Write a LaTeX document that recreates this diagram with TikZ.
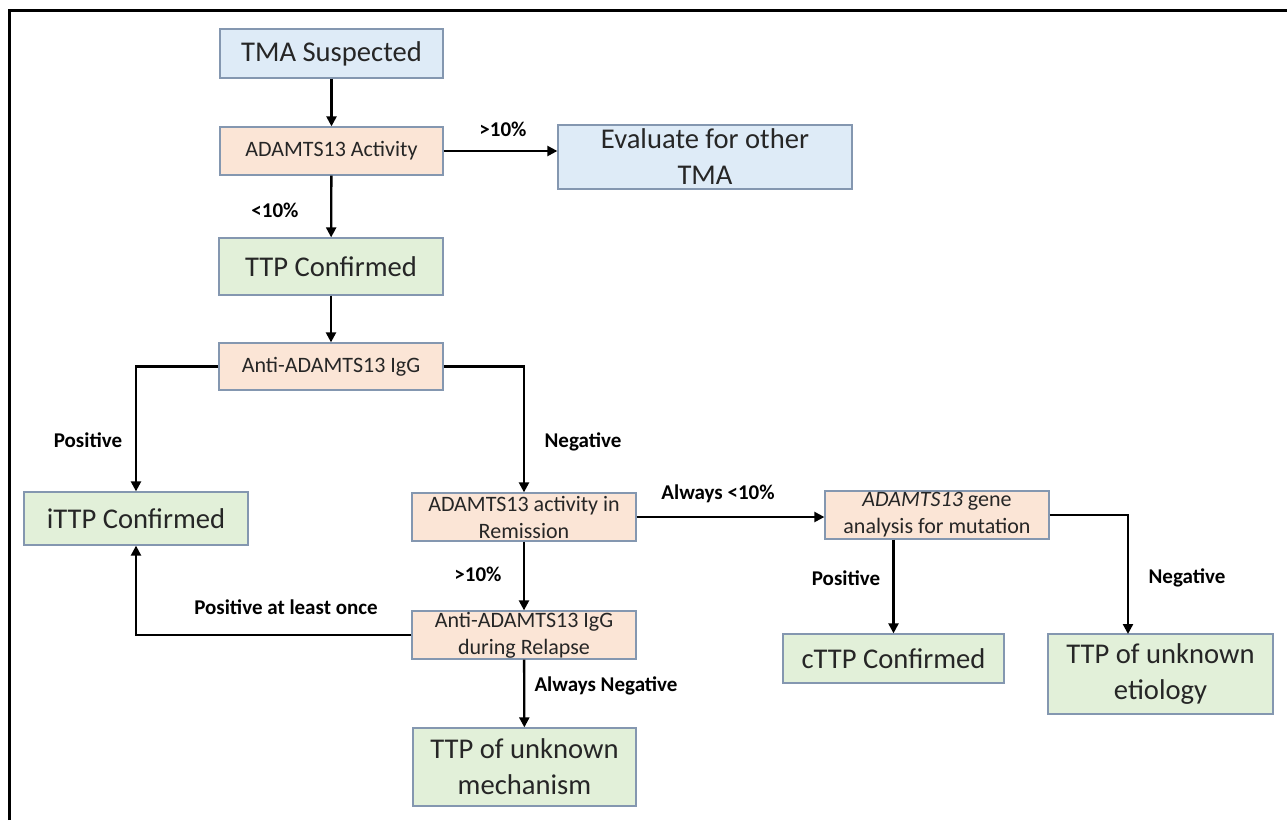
\documentclass[tikz,border=0pt]{standalone}
\usepackage{fontspec}
\setmainfont{Carlito}
\usetikzlibrary{arrows.meta,calc}
\definecolor{bluefill}{HTML}{DEEBF7}
\definecolor{peachfill}{HTML}{FBE5D6}
\definecolor{greenfill}{HTML}{E2F0D9}
\definecolor{boxline}{HTML}{8497B0}
\definecolor{txt}{HTML}{262626}
\tikzset{
  box/.style={draw=boxline, line width=1.3pt, inner sep=0pt, align=center, text=txt},
  bigbox/.style={box, font=\fontsize{28.6}{36}\selectfont},
  smallbox/.style={box, fill=peachfill, font=\fontsize{22}{27}\selectfont},
  bluebox/.style={bigbox, fill=bluefill},
  greenbox/.style={bigbox, fill=greenfill},
  lbl/.style={font=\fontsize{21}{25}\bfseries\selectfont, inner sep=0pt},
  conn/.style={line width=2.3pt},
  arr/.style={conn, -{Triangle[length=10pt,width=10pt]}}
}
\begin{document}
\begin{tikzpicture}[x=1pt,y=-1pt]
\useasboundingbox (0,0) rectangle (1287,820);
\fill[white] (0,0) rectangle (1287,820);
\draw[line width=3pt] (9,820) -- (9,10) -- (1287,10);

\node[bluebox, minimum width=223pt, minimum height=49pt] (tma) at (331.5,53.5) {TMA Suspected};
\node[smallbox, minimum width=223pt, minimum height=48pt] (act) at (331.5,151) {ADAMTS13 Activity};
\node[bluebox, minimum width=294pt, minimum height=64pt] (eval) at (705,157) {Evaluate for other\\TMA};
\node[greenbox, minimum width=224pt, minimum height=57pt] (ttp) at (331,266.5) {TTP Confirmed};
\node[smallbox, minimum width=224pt, minimum height=47pt] (igg) at (331,366.5) {Anti-ADAMTS13 IgG};
\node[greenbox, minimum width=224pt, minimum height=53pt] (ittp) at (136,518.5) {iTTP Confirmed};
\node[smallbox, minimum width=224pt, minimum height=48pt] (rem) at (524,517) {ADAMTS13 activity in\\Remission};
\node[smallbox, minimum width=224pt, minimum height=48pt] (rel) at (524,635) {Anti-ADAMTS13 IgG\\during Relapse};
\node[greenbox, minimum width=223pt, minimum height=78pt] (mech) at (524.5,767) {TTP of unknown\\mechanism};
\node[smallbox, minimum width=224pt, minimum height=48pt] (gene) at (937,515) {\textit{ADAMTS13} gene\\analysis for mutation};
\node[greenbox, minimum width=221pt, minimum height=49pt] (cttp) at (893.5,658.5) {cTTP Confirmed};
\node[greenbox, minimum width=225pt, minimum height=80pt] (etio) at (1160.5,674) {TTP of unknown\\etiology};
\coordinate (etx) at (1128,634);

\draw[arr] (tma) -- (act);
\draw[arr] (act.east) -- (act.east -| eval.west);
\draw[arr] (act) -- (ttp);
\draw[arr] (ttp) -- (igg);
\draw[arr] (igg.west) -| (ittp.north);
\draw[arr] (igg.east) -| (rem.north);
\draw[arr] (rem) -- (rel);
\draw[arr] (rel.west) -| (ittp.south);
\draw[arr] (rel) -- (mech);
\draw[arr] (rem.east) -- (rem.east -| gene.west);
\draw[arr] (gene.south -| cttp.north) -- (cttp.north);
\draw[arr] (gene.east) -| (etx);

\node[lbl] (l1) at (503,129) {>10\%};
\node[lbl] (l2) at (275,210) {<10\%};
\node[lbl] (l3) at (88,440) {Positive};
\node[lbl] (l4) at (583,442) {Negative};
\node[lbl] (l5) at (478,574) {>10\%};
\node[lbl] (l6) at (286,607) {Positive at least once};
\node[lbl] (l7) at (606,686) {Always Negative};
\node[lbl] (l8) at (718,494) {Always <10\%};
\node[lbl] (l9) at (846,578) {Positive};
\node[lbl] (l10) at (1187,578) {Negative};
\end{tikzpicture}
\end{document}
